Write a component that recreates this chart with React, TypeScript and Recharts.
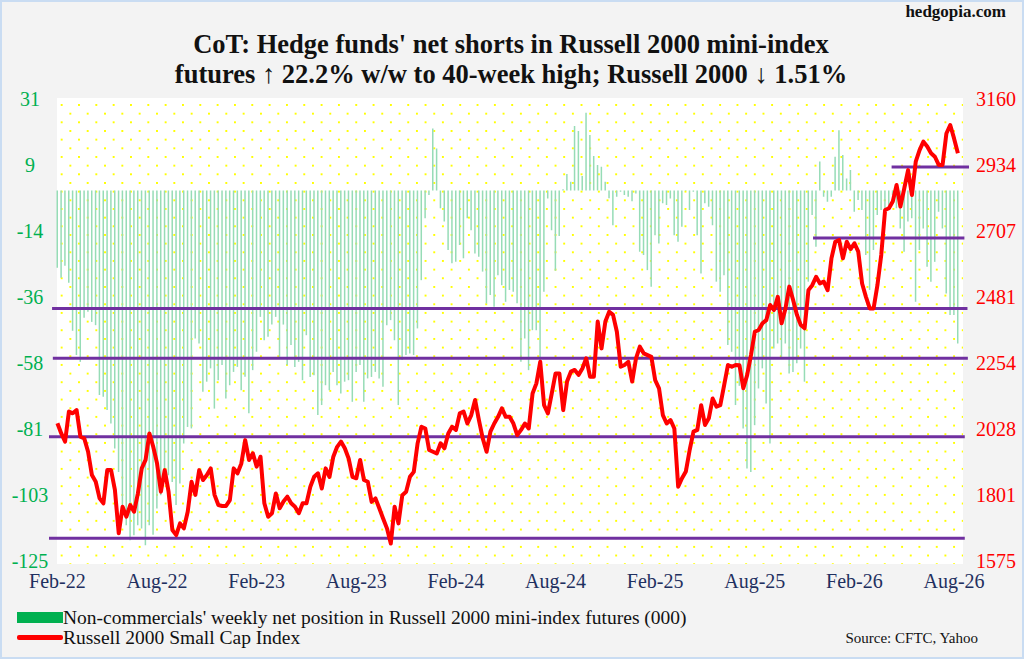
import { ComposedChart, Bar, Line, XAxis, YAxis, ReferenceLine } from 'recharts';

// weekly, one value per week; x labels every 26 weeks
const X_LABELS = ['Feb-22', 'Aug-22', 'Feb-23', 'Aug-23', 'Feb-24', 'Aug-24', 'Feb-25', 'Aug-25', 'Feb-26', 'Aug-26'];
const WEEKS_PER_LABEL = 26;

// non-commercials' net position, 000 contracts
const NET_POSITION = [
  -26.1, -29.5, -25.4, -31.2, -47.4, -55.6, -57.9, -43.0, -41.0, -44.4,
  -45.5, -69.1, -69.7, -74.2, -78.7, -87.2, -95.1, -108.6, -113.1, -118.2,
  -116.5, -113.1, -114.2, -119.9, -113.1, -116.3, -107.5, -103.0, -98.5, -96.2,
  -98.5, -106.3, -99.0, -85.5, -79.9, -80.4, -50.0, -51.7, -68.0, -64.6,
  -60.1, -73.7, -64.1, -59.0, -70.3, -65.8, -61.3, -59.6, -67.5, -62.9,
  -75.3, -60.7, -54.5, -42.7, -50.6, -49.4, -45.3, -42.7, -56.2, -45.3,
  -59.0, -52.2, -59.6, -57.9, -64.1, -48.9, -63.0, -62.4, -75.9, -72.5,
  -65.8, -67.5, -61.3, -65.8, -68.6, -64.6, -64.1, -71.4, -61.3, -59.0,
  -71.4, -63.5, -63.0, -61.3, -63.5, -66.3, -45.5, -43.8, -50.6, -72.5,
  -57.3, -55.6, -55.1, -55.6, -46.6, -30.3, -9.4, -1.5, 21.0, 14.2,
  -6.0, -10.5, -20.1, -24.6, -24.1, -18.4, -22.9, -9.4, -13.4, -21.3,
  -22.4, -27.4, -38.2, -35.3, -39.3, -28.6, -32.0, -37.6, -33.6,
  -34.2, -38.1, -57.9, -50.0, -60.7, -47.2, -47.2, -57.3, -34.2, -2.7,
  -13.4, -27.1, -15.4, 0.4, 5.6, 3.0, 21.8, 20.1, 4.9, 26.3,
  18.8, 11.7, 8.6, 8.0, 3.0, -2.6,
  -11.7, -2.1, -0.4, -1.5, -2.1, -3.6, -1.0, -20.7, -21.8, -26.9,
  -32.5, -15.1, -17.9, -4.3, -4.9, -2.7, -15.1, -17.3, -12.2, 0.2,
  -6.6, -0.4, -15.1, -28.0, -4.3, -5.5, -11.7, -30.8, -34.2, -28.6,
  -52.2, -54.5, -72.5, -66.0,
  -80.4, -93.9, -95.1, -79.3, -66.9, -60.1, -72.0, -85.5, -53.4, -51.7,
  -56.2, -51.7, -61.8, -61.3, -58.4, -53.4, -64.6, -30.8, -8.3, -19.0,
  9.8, -2.1, -3.8, -2.1, 11.4, 20.4, 12.0, 4.1, 6.9, -7.2,
  -3.2, -6.6, -21.8, -33.6, -20.1, -8.3, -6.6, -10.5, -4.9, -1.5,
  -6.0, -12.8, -20.7, -10.5, -9.4, -37.6, -20.1, -12.8, -25.8, -30.8,
  -24.1, -7.2, -12.8, -34.8, -42.1, -42.1, -51.7,
];

// Russell 2000 weekly close
const RUSSELL_2000 = [
  2046, 2011, 1983, 2086, 2080, 2091, 2000, 1994, 1948, 1868,
  1845, 1788, 1771, 1885, 1885, 1817, 1668, 1759, 1725, 1765,
  1742, 1805, 1891, 1920, 2011, 1965, 1908, 1811, 1885, 1811,
  1679, 1662, 1702, 1685, 1742, 1845, 1800, 1885, 1851, 1868,
  1891, 1800, 1765, 1762, 1762, 1782, 1891, 1874, 1908, 1988,
  1920, 1943, 1897, 1931, 1771, 1725, 1737, 1805, 1754, 1777,
  1794, 1771, 1759, 1737, 1771, 1771, 1828, 1862, 1874, 1822,
  1891, 1862, 1931, 1965, 1983, 1960, 1925, 1862, 1857, 1920,
  1851, 1845, 1776, 1788, 1754, 1719, 1685, 1633, 1759, 1702,
  1799, 1811, 1862, 1879, 1977, 2034, 2028, 1954, 1948, 1942,
  1977, 1960, 2011, 2034, 2023, 2080, 2086, 2045, 2074, 2126,
  2057, 1994, 1948, 2017, 2045, 2068, 2097, 2068, 2068,
  2045, 2005, 2023, 2045, 2028, 2148, 2183, 2257, 2108, 2080,
  2148, 2217, 2217, 2091, 2189, 2223, 2229, 2212, 2234, 2269,
  2206, 2206, 2395, 2303, 2395, 2429, 2418, 2360, 2240, 2246,
  2257, 2189, 2269, 2309, 2286, 2280, 2274, 2194, 2166, 2074,
  2045, 2057, 2028, 1828, 1857, 1880, 1954, 2017, 2023, 2108,
  2040, 2063, 2131, 2103, 2108, 2177, 2246, 2240, 2246, 2245,
  2166, 2211, 2280, 2360, 2366, 2389, 2400, 2452, 2435, 2480,
  2389, 2440, 2515, 2469, 2418, 2383, 2372, 2503, 2520, 2549,
  2526, 2532, 2503, 2612, 2669, 2675, 2612, 2669, 2644, 2664,
  2635, 2526, 2480, 2440, 2440, 2520, 2624, 2778, 2784, 2807,
  2864, 2790, 2852, 2915, 2830, 2944, 2984, 3013, 2996, 2973,
  2961, 2933, 2933, 3041, 3070, 3024, 2973,
];

const LEFT_TICK_LABELS = ['31', '9', '-14', '-36', '-58', '-81', '-103', '-125'];
const RIGHT_TICKS = [3160, 2934, 2707, 2481, 2254, 2028, 1801, 1575];

// support / resistance levels on the index, with the week span they cover
const LEVELS = [
  { value: 2440, from: -1.4, to: 237.5 },
  { value: 2269, from: -1.2, to: 237.6 },
  { value: 2000, from: -2.2, to: 236.8 },
  { value: 1651, from: -2.2, to: 236.8 },
  { value: 2926, from: 217.7, to: 237.9 },
  { value: 2682, from: 197.2, to: 236.7 },
];

const SERIF = "'Liberation Serif', 'Times New Roman', serif";
const LEFT_MIN = -125;
const LEFT_MAX = 31;
const LEFT_TICKS = LEFT_TICK_LABELS.map(
  (_, k) => LEFT_MAX - (k * (LEFT_MAX - LEFT_MIN)) / (LEFT_TICK_LABELS.length - 1)
);
const X_TICKS = X_LABELS.map((_, k) => k * WEEKS_PER_LABEL);

const rows = RUSSELL_2000.map((r2k, week) => ({ week, r2k, net: NET_POSITION[week] }));

function LeftTick({ y, payload }: any) {
  const k = LEFT_TICKS.findIndex(t => Math.abs(t - payload.value) < 0.01);
  return (
    <text x={30} y={y} dy="0.36em" textAnchor="middle" fill="#00b050" fontSize={20} fontFamily={SERIF}>
      {LEFT_TICK_LABELS[k]}
    </text>
  );
}

function RightTick({ y, payload }: any) {
  return (
    <text x={996} y={y} dy="0.36em" textAnchor="middle" fill="#ff0000" fontSize={20} fontFamily={SERIF}>
      {payload.value}
    </text>
  );
}

function WeekTick({ x, payload }: any) {
  return (
    <text x={x} y={581} dy="0.36em" textAnchor="middle" fill="#1f3060" fontSize={20} fontFamily={SERIF}>
      {X_LABELS[Math.round(payload.value / WEEKS_PER_LABEL)]}
    </text>
  );
}

export default function App() {
  return (
    <div
      style={{
        position: 'absolute',
        left: 0,
        top: 0,
        width: 1024,
        height: 659,
        background: '#f3f3f3',
        boxShadow: 'inset 0 0 0 2px #c9dcf2',
        fontFamily: SERIF,
        overflow: 'hidden',
      }}
    >
      {/* plot panel: white with staggered yellow dots */}
      <div
        style={{
          position: 'absolute',
          left: 57,
          top: 98,
          width: 906,
          height: 466,
          backgroundColor: '#ffffff',
          backgroundImage:
            'radial-gradient(circle, #ffff00 0 1.1px, transparent 1.5px), radial-gradient(circle, #ffff00 0 1.1px, transparent 1.5px)',
          backgroundSize: '17.33px 17.33px, 17.33px 17.33px',
          backgroundPosition: '-4px -1.7px, 4.7px 7px',
        }}
      />
      <div style={{ position: 'absolute', right: 18, top: 2, fontSize: 17, fontWeight: 'bold', color: '#111' }}>
        hedgopia.com
      </div>
      <div
        style={{
          position: 'absolute',
          left: 0,
          top: 29,
          width: 1022,
          textAlign: 'center',
          fontSize: 26.5,
          lineHeight: '30px',
          fontWeight: 'bold',
          color: '#111',
        }}
      >
        CoT: Hedge funds' net shorts in Russell 2000 mini-index
        <br />
        futures ↑ 22.2% w/w to 40-week high; Russell 2000 ↓ 1.51%
      </div>

      <div style={{ position: 'absolute', left: 0, top: 0 }}>
        <ComposedChart
          width={1024}
          height={659}
          data={rows}
          margin={{ top: 98.8, right: 0, bottom: 58.6, left: 0 }}
        >
          <XAxis
            dataKey="week"
            type="number"
            domain={[-2.2, 237.9]}
            allowDataOverflow
            ticks={X_TICKS}
            interval={0}
            height={40}
            axisLine={false}
            tickLine={false}
            tick={<WeekTick />}
          />
          <YAxis
            yAxisId="left"
            orientation="left"
            width={49}
            domain={[LEFT_MIN, LEFT_MAX]}
            allowDataOverflow
            ticks={LEFT_TICKS}
            interval={0}
            axisLine={false}
            tickLine={false}
            tick={<LeftTick />}
          />
          <YAxis
            yAxisId="right"
            orientation="right"
            width={55}
            domain={[1575, 3160]}
            allowDataOverflow
            ticks={RIGHT_TICKS}
            interval={0}
            axisLine={false}
            tickLine={false}
            tick={<RightTick />}
          />
          <Bar yAxisId="left" dataKey="net" fill="#96dcb6" barSize={1.5} isAnimationActive={false} />
          {LEVELS.map(l => (
            <ReferenceLine
              key={l.value}
              yAxisId="right"
              segment={[
                { x: l.from, y: l.value },
                { x: l.to, y: l.value },
              ]}
              stroke="#7030a0"
              strokeWidth={3}
              ifOverflow="visible"
            />
          ))}
          <Line
            yAxisId="right"
            dataKey="r2k"
            type="linear"
            stroke="#ff0000"
            strokeWidth={4}
            strokeLinejoin="round"
            dot={false}
            isAnimationActive={false}
          />
        </ComposedChart>
      </div>

      {/* legend */}
      <div style={{ position: 'absolute', left: 17, top: 612, width: 46, height: 11, background: '#00b050' }} />
      <div style={{ position: 'absolute', left: 63, top: 606, fontSize: 19.5, lineHeight: '24px', color: '#111' }}>
        Non-commercials' weekly net position in Russell 2000 mini-index futures (000)
      </div>
      <div style={{ position: 'absolute', left: 17, top: 635, width: 46, height: 5, borderRadius: 2, background: '#ff0000' }} />
      <div style={{ position: 'absolute', left: 63, top: 626, fontSize: 19.5, lineHeight: '24px', color: '#111' }}>
        Russell 2000 Small Cap Index
      </div>
      <div style={{ position: 'absolute', right: 46, top: 628, fontSize: 15, lineHeight: '20px', color: '#111' }}>
        Source: CFTC, Yahoo
      </div>
    </div>
  );
}
